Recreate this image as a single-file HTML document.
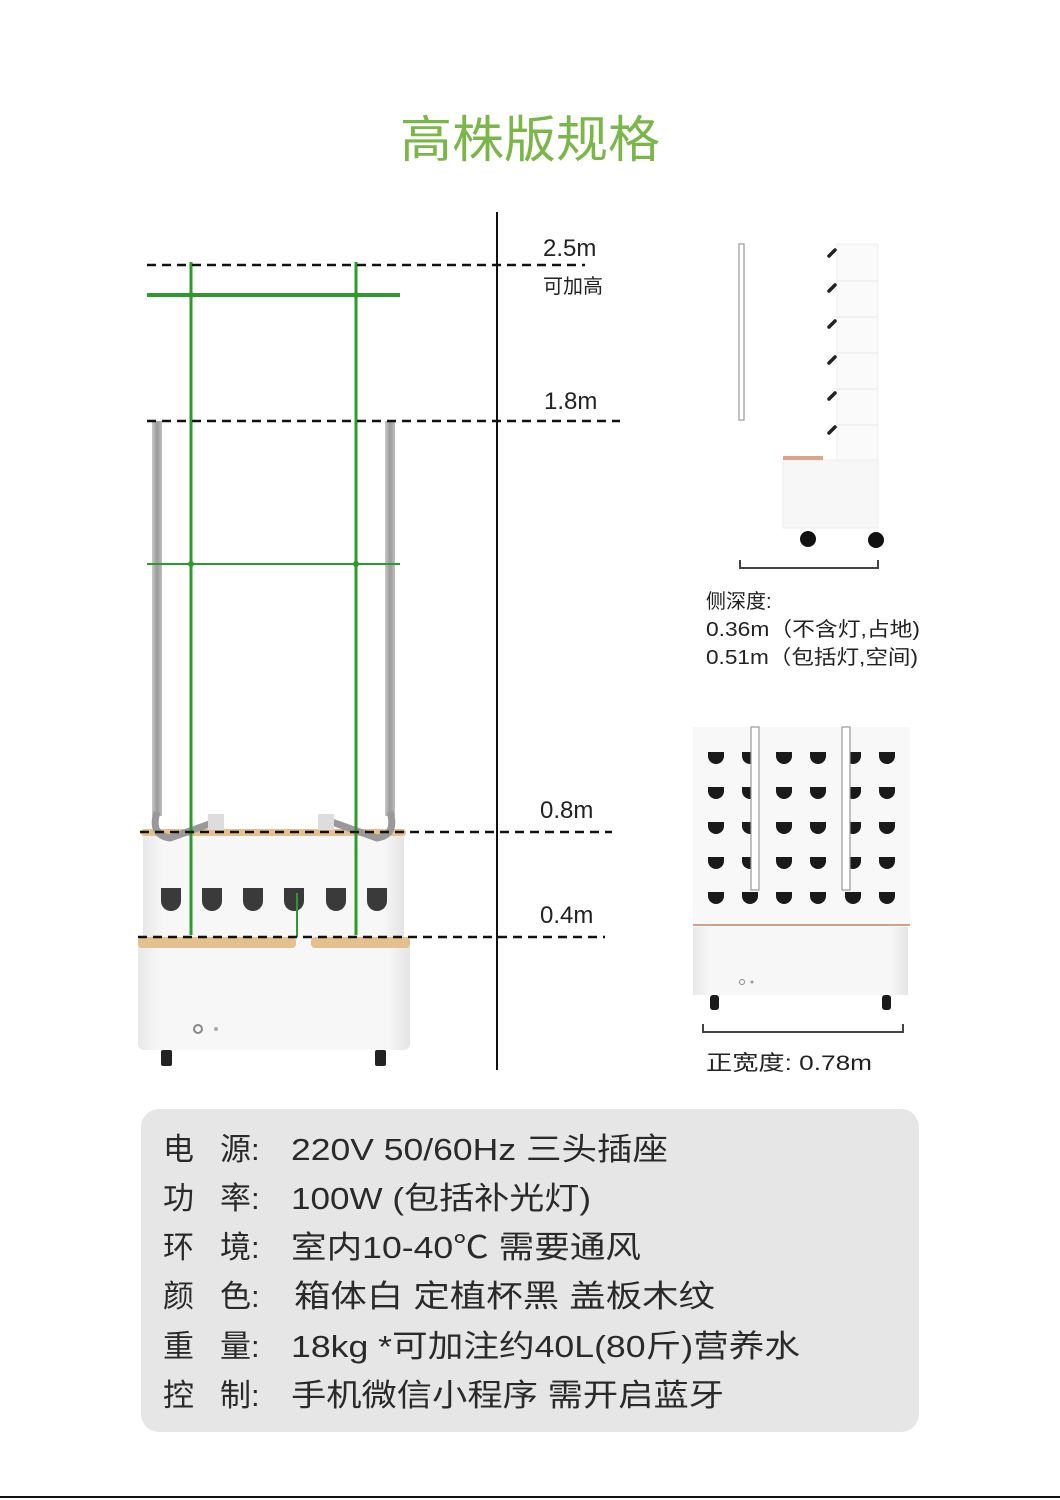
<!DOCTYPE html>
<html><head><meta charset="utf-8"><style>
html,body{margin:0;padding:0;background:#fff;}
body{width:1060px;height:1500px;position:relative;overflow:hidden;font-family:"Liberation Sans","Noto Sans CJK SC",sans-serif;}
svg{position:absolute;left:0;top:0;}
</style></head><body>
<svg width="1060" height="1500" viewBox="0 0 1060 1500" font-family="Liberation Sans, Noto Sans CJK SC, sans-serif">
<defs>
<linearGradient id="pole" x1="0" x2="1"><stop offset="0" stop-color="#c8c8c8"/><stop offset=".5" stop-color="#9a9a9a"/><stop offset="1" stop-color="#bdbdbd"/></linearGradient>
<linearGradient id="box" x1="0" x2="1"><stop offset="0" stop-color="#e8e8e8"/><stop offset=".08" stop-color="#f7f7f7"/><stop offset=".92" stop-color="#f7f7f7"/><stop offset="1" stop-color="#e4e4e4"/></linearGradient>
<path id="c" d="M-8 -5h16v4a8 8 0 0 1-16 0z"/>
</defs>
<text x="530" y="157" text-anchor="middle" font-size="50" fill="#7ab648" textLength="260" lengthAdjust="spacingAndGlyphs">高株版规格</text>
<line x1="497" y1="212" x2="497" y2="1070" stroke="#111" stroke-width="2"/>

<rect x="143" y="833" width="261" height="104" fill="url(#box)"/>
<rect x="141" y="829" width="265" height="7" rx="3" fill="#e3c08d"/>
<rect x="138" y="937" width="272" height="113" rx="6" fill="url(#box)"/>
<rect x="138" y="937" width="158" height="11" rx="4" fill="#e3c08d"/>
<rect x="311" y="937" width="99" height="11" rx="4" fill="#e3c08d"/>
<circle cx="198" cy="1029" r="4" fill="none" stroke="#888" stroke-width="2"/>
<circle cx="216" cy="1029" r="2" fill="#aaa"/>
<rect x="161" y="1050" width="11" height="16" rx="2" fill="#222"/>
<rect x="375" y="1050" width="11" height="16" rx="2" fill="#222"/>
<g fill="#3a3a3a">
<path d="M161 888h20v13a10 10 0 0 1-20 0z"/><path d="M202 888h20v13a10 10 0 0 1-20 0z"/><path d="M243 888h20v13a10 10 0 0 1-20 0z"/><path d="M284 888h20v13a10 10 0 0 1-20 0z"/><path d="M326 888h20v13a10 10 0 0 1-20 0z"/><path d="M367 888h20v13a10 10 0 0 1-20 0z"/>
</g>
<rect x="152" y="421" width="10" height="395" fill="url(#pole)"/>
<rect x="385" y="421" width="10" height="395" fill="url(#pole)"/>
<path d="M157 812 Q150 835 170 838 L215 822" fill="none" stroke="#999" stroke-width="7"/>
<path d="M390 812 Q397 835 377 838 L332 822" fill="none" stroke="#999" stroke-width="7"/>
<rect x="208" y="814" width="16" height="16" fill="#ddd"/>
<rect x="318" y="814" width="16" height="16" fill="#ddd"/>
<g stroke="#2e9a2e" stroke-width="3">
<line x1="191" y1="262" x2="191" y2="935"/><line x1="356" y1="262" x2="356" y2="935"/>
<line x1="147" y1="295" x2="400" y2="295" stroke-width="4"/>
<line x1="147" y1="564" x2="400" y2="564" stroke-width="2"/>
<line x1="297" y1="893" x2="297" y2="937" stroke-width="2"/>
</g>
<g fill="#2e9a2e"><circle cx="191" cy="295" r="3"/><circle cx="356" cy="295" r="3"/><circle cx="191" cy="564" r="3"/><circle cx="356" cy="564" r="3"/></g>
<g stroke="#111" stroke-width="2.5" stroke-dasharray="9 6">
<line x1="147" y1="265" x2="585" y2="265"/>
<line x1="147" y1="421" x2="620" y2="421"/>
<line x1="140" y1="832" x2="612" y2="832"/>
<line x1="138" y1="937" x2="605" y2="937"/>
</g>
<g font-size="24" fill="#222">
<text x="543" y="256">2.5m</text>
<text x="544" y="409">1.8m</text>
<text x="540" y="818">0.8m</text>
<text x="540" y="923">0.4m</text>
</g>
<text x="543" y="293" font-size="20" fill="#222">可加高</text>

<rect x="739" y="244" width="5" height="176" fill="#fff" stroke="#999" stroke-width="1.2"/>
<rect x="837" y="244" width="41" height="216" fill="#fafafa" stroke="#eee"/>
<g stroke="#e6e6e6"><line x1="837" y1="281" x2="878" y2="281"/><line x1="837" y1="317" x2="878" y2="317"/><line x1="837" y1="353" x2="878" y2="353"/><line x1="837" y1="389" x2="878" y2="389"/><line x1="837" y1="425" x2="878" y2="425"/></g>
<g stroke="#222" stroke-width="3.5" stroke-linecap="round">
<line x1="829" y1="256" x2="835" y2="250"/><line x1="829" y1="291" x2="835" y2="285"/><line x1="829" y1="327" x2="835" y2="321"/><line x1="829" y1="363" x2="835" y2="357"/><line x1="829" y1="399" x2="835" y2="393"/><line x1="829" y1="433" x2="835" y2="427"/>
</g>
<rect x="783" y="460" width="95" height="68" fill="#f7f7f7" stroke="#eee"/>
<rect x="783" y="456" width="40" height="4" fill="#d9a38c"/>
<circle cx="808" cy="539" r="8" fill="#111"/><circle cx="876" cy="540" r="8" fill="#111"/>
<path d="M740 560v8h138v-8" fill="none" stroke="#444" stroke-width="2"/>
<g font-size="20" fill="#222">
<text x="706" y="608">侧深度:</text>
<text x="706" y="636" textLength="214" lengthAdjust="spacingAndGlyphs">0.36m（不含灯,占地)</text>
<text x="706" y="664" textLength="212" lengthAdjust="spacingAndGlyphs">0.51m（包括灯,空间)</text>
</g>

<rect x="693" y="727" width="217" height="198" fill="#f8f8f8"/>
<rect x="693" y="927" width="215" height="68" fill="url(#box)"/>
<line x1="693" y1="925" x2="910" y2="925" stroke="#d4a088" stroke-width="2"/>
<g fill="#1a1a1a">
<use href="#c" x="716" y="757"/><use href="#c" x="750" y="757"/><use href="#c" x="784" y="757"/><use href="#c" x="818" y="757"/><use href="#c" x="853" y="757"/><use href="#c" x="887" y="757"/>
<use href="#c" x="716" y="792"/><use href="#c" x="750" y="792"/><use href="#c" x="784" y="792"/><use href="#c" x="818" y="792"/><use href="#c" x="853" y="792"/><use href="#c" x="887" y="792"/>
<use href="#c" x="716" y="827"/><use href="#c" x="750" y="827"/><use href="#c" x="784" y="827"/><use href="#c" x="818" y="827"/><use href="#c" x="853" y="827"/><use href="#c" x="887" y="827"/>
<use href="#c" x="716" y="862"/><use href="#c" x="750" y="862"/><use href="#c" x="784" y="862"/><use href="#c" x="818" y="862"/><use href="#c" x="853" y="862"/><use href="#c" x="887" y="862"/>
<use href="#c" x="716" y="897"/><use href="#c" x="750" y="897"/><use href="#c" x="784" y="897"/><use href="#c" x="818" y="897"/><use href="#c" x="853" y="897"/><use href="#c" x="887" y="897"/>
</g>
<rect x="751" y="727" width="8" height="163" fill="#fff" stroke="#999" stroke-width="1.2"/>
<rect x="842" y="727" width="8" height="163" fill="#fff" stroke="#999" stroke-width="1.2"/>
<circle cx="742" cy="982" r="2.5" fill="none" stroke="#888"/><circle cx="752" cy="982" r="1.5" fill="#999"/>
<rect x="710" y="995" width="9" height="15" rx="3" fill="#1a1a1a"/>
<rect x="882" y="995" width="9" height="15" rx="3" fill="#1a1a1a"/>
<path d="M703 1024v8h200v-8" fill="none" stroke="#444" stroke-width="2"/>
<text x="706" y="1070" font-size="21" fill="#222" textLength="166" lengthAdjust="spacingAndGlyphs">正宽度:  0.78m</text>

<rect x="141" y="1109" width="778" height="323" rx="18" fill="#e6e6e6"/>
<g font-size="31" fill="#2a2a2a">
<text x="163" y="1160">电</text><text x="220" y="1160">源:</text><text x="291" y="1160" textLength="377" lengthAdjust="spacingAndGlyphs">220V 50/60Hz 三头插座</text>
<text x="163" y="1209">功</text><text x="220" y="1209">率:</text><text x="291" y="1209" textLength="300" lengthAdjust="spacingAndGlyphs">100W (包括补光灯)</text>
<text x="163" y="1258">环</text><text x="220" y="1258">境:</text><text x="291" y="1258" textLength="350" lengthAdjust="spacingAndGlyphs">室内10-40℃ 需要通风</text>
<text x="163" y="1307">颜</text><text x="220" y="1307">色:</text><text x="294" y="1307" textLength="421" lengthAdjust="spacingAndGlyphs">箱体白 定植杯黑  盖板木纹</text>
<text x="163" y="1357">重</text><text x="220" y="1357">量:</text><text x="291" y="1357" textLength="509" lengthAdjust="spacingAndGlyphs">18kg *可加注约40L(80斤)营养水</text>
<text x="163" y="1406">控</text><text x="220" y="1406">制:</text><text x="291" y="1406" textLength="433" lengthAdjust="spacingAndGlyphs">手机微信小程序 需开启蓝牙</text>
</g>
<line x1="0" y1="1497" x2="1060" y2="1497" stroke="#111" stroke-width="2"/>
</svg>
</body></html>
